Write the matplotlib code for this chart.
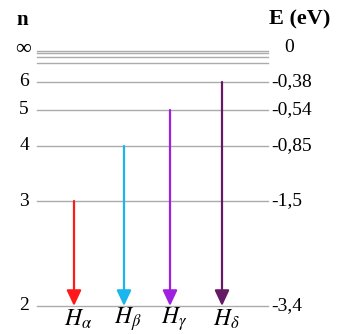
import matplotlib
matplotlib.use('Agg')
import matplotlib.pyplot as plt

plt.rcParams['mathtext.fontset'] = 'stix'
plt.rcParams['font.family'] = ['Liberation Serif', 'DejaVu Serif']

# energy levels of hydrogen (top to bottom)
n_labels = ['∞', '6', '5', '4', '3', '2']
e_labels = ['0', '-0,38', '-0,54', '-0,85', '-1,5', '-3,4']
# Balmer transitions: upper level -> n=2
series_names = [r'$H_\alpha$', r'$H_\beta$', r'$H_\gamma$', r'$H_\delta$']
series_upper = ['3', '4', '5', '6']
series_colors = ['#ff1a1a', '#19b5ee', '#a020e0', '#661a66']

# schematic layout (pixel-like coords, y downward)
level_y = {'∞': 50.5, '6': 82, '5': 110, '4': 146, '3': 201, '2': 306}
conv_y = [52.5, 56.5, 63]       # crowding lines under n = ∞
x0, x1 = 37, 268
arrow_x = [74, 124, 170, 222]

fig = plt.figure(figsize=(3.41, 3.34), dpi=100)
ax = fig.add_axes([0, 0, 1, 1])
ax.set_xlim(0, 341)
ax.set_ylim(334, 0)
ax.axis('off')

grey = '#ababab'
for n, e in zip(n_labels, e_labels):
    y = level_y[n]
    ax.plot([x0, x1], [y, y], color=grey, lw=1.0)
    if n == '∞':
        ax.text(31, y - 1, n, ha='right', va='center', fontsize=16)
        ax.text(284, y - 3, e, ha='left', va='center', fontsize=14)
    else:
        ax.text(29, y, n, ha='right', va='center', fontsize=14)
        ax.text(271, y, e, ha='left', va='center', fontsize=14)
for y in conv_y:
    ax.plot([x0, x1], [y, y], color=grey, lw=1.0)

ax.text(22, 20, 'n', ha='center', va='center', fontsize=15, fontweight='bold')
ax.text(300, 19, 'E (eV)', ha='center', va='center', fontsize=16, fontweight='bold')

for name, up, c, x in zip(series_names, series_upper, series_colors, arrow_x):
    ax.annotate('', xy=(x, level_y['2']), xytext=(x, level_y[up]),
                arrowprops=dict(arrowstyle='-|>,head_length=0.47,head_width=0.22',
                                color=c, lw=1.6, mutation_scale=20,
                                shrinkA=0, shrinkB=0))
    ax.text(x + 4, 319, name, ha='center', va='center', fontsize=17)

fig.savefig('out.png', dpi=100)
